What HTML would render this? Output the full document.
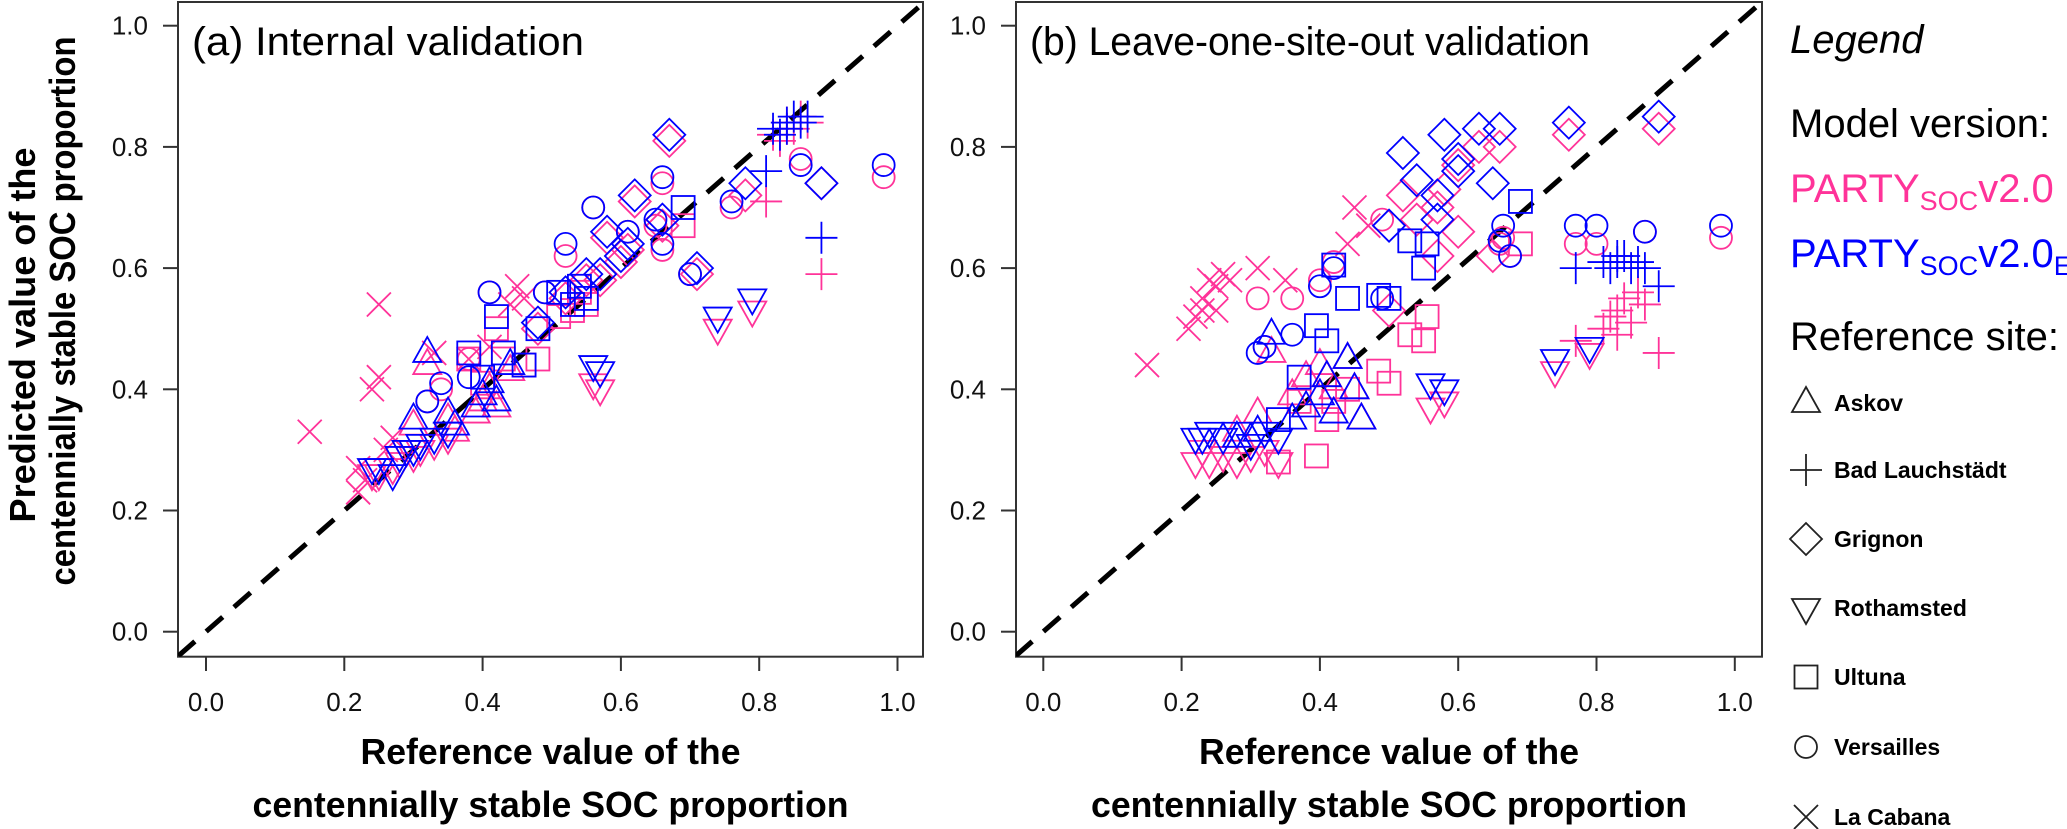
<!DOCTYPE html>
<html><head><meta charset="utf-8"><style>
html,body{margin:0;padding:0;background:#fff;overflow:hidden}
svg{display:block}
text{font-family:"Liberation Sans",sans-serif}
</style></head><body>
<svg id="chart" width="2067" height="829" viewBox="0 0 2067 829" xmlns="http://www.w3.org/2000/svg">
<g id="axes"></g><g id="marks"></g><g id="legend"></g>
</svg>
<script>
const tickValues = [0, 0.2, 0.4, 0.6, 0.8, 1.0];
const tickLabels = ["0.0","0.2","0.4","0.6","0.8","1.0"];
// Panel (a) internal validation
const aSite = ["cabana","cabana","cabana","cabana","cabana","cabana","cabana","cabana","cabana","cabana","cabana","cabana","cabana","cabana","cabana",
 "bad","bad","bad","bad","bad","bad","bad","bad","bad",
 "grignon","grignon","grignon","grignon","grignon","grignon","grignon","grignon","grignon","grignon","grignon","grignon","grignon",
 "roth","roth","roth","roth","roth","roth","roth","roth","roth","roth","roth","roth","roth",
 "askov","askov","askov","askov","askov","askov","askov","askov","askov",
 "ultuna","ultuna","ultuna","ultuna","ultuna","ultuna","ultuna","ultuna","ultuna","ultuna","ultuna",
 "vers","vers","vers","vers","vers","vers","vers","vers","vers","vers","vers","vers","vers","vers","vers"];
const aRef = [.15,.25,.24,.25,.22,.23,.22,.26,.27,.33,.41,.45,.46,.44,.38,
 .82,.84,.85,.86,.83,.87,.81,.89,.84,
 .52,.55,.60,.61,.58,.62,.66,.67,.78,.89,.71,.48,.57,
 .24,.25,.27,.28,.30,.31,.33,.35,.56,.57,.74,.79,.29,
 .32,.35,.40,.41,.44,.36,.42,.30,.39,
 .42,.38,.43,.48,.51,.53,.54,.69,.40,.55,.46,
 .41,.38,.32,.34,.56,.52,.66,.65,.66,.70,.76,.86,.98,.49,.61];
const aPink = [.33,.54,.40,.42,.27,.25,.23,.30,.32,.46,.47,.57,.55,.54,.45,
 .82,.84,.83,.85,.81,.84,.71,.59,.83,
 .55,.58,.61,.63,.65,.71,.67,.81,.72,.74,.59,.50,.58,
 .26,.26,.27,.28,.29,.30,.31,.32,.41,.40,.50,.53,.30,
 .44,.35,.38,.40,.43,.33,.37,.34,.36,
 .50,.45,.45,.45,.52,.53,.56,.67,.41,.54,.44,
 .56,.45,.38,.40,.70,.62,.74,.67,.63,.59,.70,.78,.75,.56,.66];
const aBlue = [null,null,null,null,null,null,null,null,null,null,null,null,null,null,null,
 .83,.84,.85,.84,.82,.85,.76,.65,.83,
 .56,.59,.62,.64,.66,.72,.68,.82,.74,.74,.60,.51,.59,
 .27,.27,.26,.29,.30,.31,.32,.33,.44,.43,.52,.55,.30,
 .46,.36,.39,.41,.44,.34,.38,.35,.37,
 .52,.46,.46,.50,.56,.54,.57,.70,.42,.55,.44,
 .56,.42,.38,.41,.70,.64,.75,.68,.64,.59,.71,.77,.77,.56,.66];
// Panel (b) leave-one-site-out validation
const bSite = ["cabana","cabana","cabana","cabana","cabana","cabana","cabana","cabana","cabana","cabana","cabana","cabana","cabana","cabana","cabana",
 "bad","bad","bad","bad","bad","bad","bad","bad","bad","bad",
 "grignon","grignon","grignon","grignon","grignon","grignon","grignon","grignon","grignon","grignon","grignon","grignon","grignon",
 "roth","roth","roth","roth","roth","roth","roth","roth","roth","roth","roth","roth",
 "askov","askov","askov","askov","askov","askov","askov","askov","askov","askov","askov",
 "ultuna","ultuna","ultuna","ultuna","ultuna","ultuna","ultuna","ultuna","ultuna","ultuna","ultuna","ultuna",
 "vers","vers","vers","vers","vers","vers","vers","vers","vers","vers","vers","vers","vers"];
const bRef = [.15,.21,.22,.23,.24,.25,.26,.27,.23,.25,.31,.45,.47,.35,.44,
 .81,.82,.83,.84,.85,.86,.87,.83,.77,.89,
 .52,.58,.63,.66,.76,.89,.54,.57,.65,.60,.50,.60,.57,
 .74,.79,.56,.58,.22,.24,.26,.28,.30,.32,.34,.23,
 .33,.44,.41,.45,.28,.31,.36,.38,.40,.42,.46,
 .69,.53,.555,.55,.44,.485,.395,.41,.37,.34,.42,.50,
 .77,.80,.87,.98,.665,.66,.675,.31,.32,.36,.42,.49,.40];
const bPink = [.44,.50,.52,.55,.58,.57,.59,.58,.53,.53,.60,.70,.67,.58,.64,
 .50,.52,.53,.55,.51,.56,.54,.49,.48,.46,
 .72,.73,.80,.80,.82,.83,.68,.70,.62,.77,.53,.66,.62,
 .43,.46,.37,.38,.28,.28,.29,.28,.29,.30,.28,.30,
 .46,.45,.42,.40,.33,.36,.39,.42,.44,.40,.35,
 .64,.49,.52,.48,.40,.43,.29,.35,.38,.28,.38,.41,
 .64,.64,.66,.65,.65,.64,.62,.55,.47,.55,.61,.68,.58];
const bBlue = [null,null,null,null,null,null,null,null,null,null,null,null,null,null,null,
 .61,.60,.61,.62,.60,.61,.60,.62,.60,.57,
 .79,.82,.83,.83,.84,.85,.745,.72,.74,.78,.67,.76,.68,
 .45,.47,.41,.40,.32,.33,.32,.33,.31,.33,.32,.32,
 .49,.45,.42,.40,.32,.33,.35,.37,.39,.36,.35,
 .71,.645,.64,.60,.55,.555,.505,.48,.42,.35,.605,.55,
 .67,.67,.66,.67,.67,.645,.62,.46,.47,.49,.60,.55,.57];

const PINK = "#ff3399", BLUE = "#0000ff";
const NS = "http://www.w3.org/2000/svg";
const yScale = v => 631.7 - 606 * v;
const panels = [
  {key:"a", x0:178, x1:923, sx: v => 206 + 691.5 * v, title:"(a) Internal validation", tx:192, tl:392, site:aSite, ref:aRef, pink:aPink, blue:aBlue},
  {key:"b", x0:1016, x1:1762, sx: v => 1043.3 + 691.5 * v, title:"(b) Leave-one-site-out validation", tx:1030, tl:560, site:bSite, ref:bRef, pink:bPink, blue:bBlue}
];
const axes = document.getElementById("axes");
const marks = document.getElementById("marks");
const legend = document.getElementById("legend");
function mk(tag, attrs, parent){const e=document.createElementNS(NS,tag);for(const k in attrs)e.setAttribute(k,attrs[k]);parent.appendChild(e);return e;}

function marker(site, cx, cy, color, parent, sw){
  let e;
  const st = {fill:"none", stroke:color, "stroke-width":sw};
  if(site==="askov"){ e = mk("polygon", Object.assign({points:`${cx},${cy-16} ${cx+14},${cy+9} ${cx-14},${cy+9}`}, st), parent); }
  else if(site==="roth"){ e = mk("polygon", Object.assign({points:`${cx},${cy+16} ${cx+14},${cy-9} ${cx-14},${cy-9}`}, st), parent); }
  else if(site==="grignon"){ e = mk("polygon", Object.assign({points:`${cx},${cy-16} ${cx+16},${cy} ${cx},${cy+16} ${cx-16},${cy}`}, st), parent); }
  else if(site==="ultuna"){ e = mk("rect", Object.assign({x:cx-11.5,y:cy-11.5,width:23,height:23}, st), parent); }
  else if(site==="vers"){ e = mk("circle", Object.assign({cx:cx,cy:cy,r:11}, st), parent); }
  else if(site==="bad"){ e = mk("path", Object.assign({d:`M${cx-16},${cy}H${cx+16}M${cx},${cy-16}V${cy+16}`}, st), parent); }
  else { e = mk("path", Object.assign({d:`M${cx-12},${cy-12}L${cx+12},${cy+12}M${cx-12},${cy+12}L${cx+12},${cy-12}`}, st), parent); }
  return e;
}

panels.forEach(p => {
  const g = mk("g", {}, axes);
  
  
  const box = mk("rect", {x:p.x0, y:2, width:p.x1-p.x0, height:654.7, fill:"none", stroke:"#333", "stroke-width":2}, g);
  
  
  tickValues.forEach((v,i) => {
    const x = p.sx(v), y = yScale(v);
    mk("line", {x1:x, x2:x, y1:656.7, y2:671, stroke:"#333", "stroke-width":2}, g);
    const tx = mk("text", {x:x, y:711, "font-size":26, "text-anchor":"middle", fill:"#111"}, g);
    tx.textContent = tickLabels[i];
    
    
    mk("line", {x1:p.x0-15, x2:p.x0, y1:y, y2:y, stroke:"#333", "stroke-width":2}, g);
    const ty = mk("text", {x:p.x0-30, y:y+9, "font-size":26, "text-anchor":"end", fill:"#111"}, g);
    ty.textContent = tickLabels[i];
    
    
  });
  const t = mk("text", {x:p.tx, y:55, "font-size":40, textLength:p.tl, lengthAdjust:"spacingAndGlyphs", fill:"#000"}, g);
  t.textContent = p.title;
  
  
  const cx = (p.x0 + p.x1) / 2;
  const l1 = mk("text", {x:cx, y:764, "font-size":36, "font-weight":"bold", "text-anchor":"middle", textLength:380, lengthAdjust:"spacingAndGlyphs"}, g);
  l1.textContent = "Reference value of the";
  
  
  const l2 = mk("text", {x:cx, y:817, "font-size":36, "font-weight":"bold", "text-anchor":"middle", textLength:596, lengthAdjust:"spacingAndGlyphs"}, g);
  l2.textContent = "centennially stable SOC proportion";
  
  
  const clipId = "clip" + p.key;
  const cp = mk("clipPath", {id:clipId}, g);
  mk("rect", {x:p.x0, y:2, width:p.x1-p.x0, height:654.7}, cp);
  const d = mk("line", {x1:p.sx(-0.04), y1:yScale(-0.04), x2:p.sx(1.1), y2:yScale(1.1), stroke:"#000", "stroke-width":5, "stroke-dasharray":"22 15", "clip-path":`url(#${clipId})`}, g);
  
  
  const mg = mk("g", {"clip-path":`url(#${clipId})`}, marks);
  
  
  [[p.pink, PINK, "v20"], [p.blue, BLUE, "v20eu"]].forEach(([ser, col, nm]) => {
    ser.forEach((v, i) => {
      if (v === null) return;
      const m = marker(p.site[i], p.sx(p.ref[i]), yScale(v), col, mg, 1.8);
      
      
    });
  });
});

const yt = mk("g", {}, axes);


const y1 = mk("text", {x:0, y:0, "font-size":36, "font-weight":"bold", "text-anchor":"middle", textLength:375, lengthAdjust:"spacingAndGlyphs", transform:"translate(35,335) rotate(-90)"}, yt);
y1.textContent = "Predicted value of the";
const y2 = mk("text", {x:0, y:0, "font-size":36, "font-weight":"bold", "text-anchor":"middle", textLength:549, lengthAdjust:"spacingAndGlyphs", transform:"translate(75,311) rotate(-90)"}, yt);
y2.textContent = "centennially stable SOC proportion";

function lt(x, y, txt, attrs, name){
  const e = mk("text", Object.assign({x:x, y:y}, attrs), legend);
  e.innerHTML = txt;
  
  
  return e;
}
lt(1790, 53, "Legend", {"font-size":40, "font-style":"italic"}, "legend-heading");
lt(1790, 137, "Model version:", {"font-size":40}, "model-version-heading");
lt(1790, 202, 'PARTY<tspan font-size="27" dy="8">SOC</tspan><tspan dy="-8">v2.0</tspan>', {"font-size":40, fill:PINK}, "legend-entry-v20");
lt(1790, 267, 'PARTY<tspan font-size="27" dy="8">SOC</tspan><tspan dy="-8">v2.0</tspan><tspan font-size="27" dy="8">EU</tspan>', {"font-size":40, fill:BLUE}, "legend-entry-v20eu");
lt(1790, 350, "Reference site:", {"font-size":40}, "reference-site-heading");
const legSites = ["askov","bad","grignon","roth","ultuna","vers","cabana"];
const legLabels = ["Askov","Bad Lauchstädt","Grignon","Rothamsted","Ultuna","Versailles","La Cabana"];
const legY = [403,470,539,608,677,747,817];
legSites.forEach((s,i) => {
  const m = marker(s, 1806, legY[i], "#222", legend, 1.8);
  
  
  lt(1834, legY[i] + 8, legLabels[i], {"font-size":23, "font-weight":"bold"}, "legend-entry-" + s);
});
</script>
</body></html>
